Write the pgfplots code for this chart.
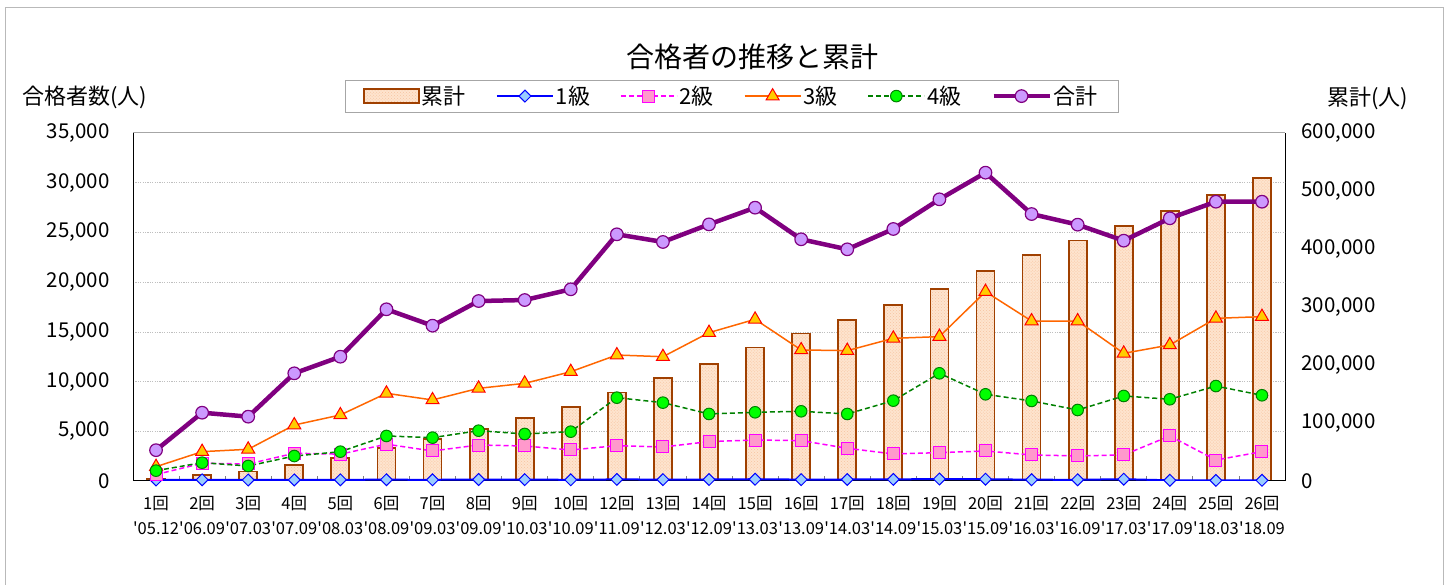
\documentclass[border=0pt]{standalone}
\usepackage{fontspec}
\newfontfamily\jp{Noto Sans CJK JP}[Ligatures=TeXOff]
\usepackage{pgfplots}
\pgfplotsset{compat=1.18}
\usepackage{pgfplotstable}
\usetikzlibrary{patterns}

\definecolor{barfill}{RGB}{254,228,206}
\definecolor{barpat}{RGB}{246,196,160}
\definecolor{bardraw}{RGB}{160,64,0}
\definecolor{cA}{RGB}{0,0,255}
\definecolor{cAf}{RGB}{153,204,255}
\definecolor{cB}{RGB}{255,0,255}
\definecolor{cBf}{RGB}{255,153,204}
\definecolor{cC}{RGB}{255,102,0}
\definecolor{cCf}{RGB}{255,204,0}
\definecolor{cCd}{RGB}{255,0,0}
\definecolor{cD}{RGB}{0,128,0}
\definecolor{cDf}{RGB}{0,255,0}
\definecolor{cE}{RGB}{128,0,128}
\definecolor{cEf}{RGB}{204,153,255}

\pgfplotstableread{
idx k1 k2 k3 k4 tot cum
0 100 650 1440 1040 3100 3100
1 120 1780 2950 1840 6870 9900
2 100 1710 3190 1510 6470 16300
3 110 2790 5630 2510 10830 27000
4 120 2700 6640 2950 12500 39500
5 130 3700 8820 4530 17270 56800
6 120 3020 8150 4360 15620 72400
7 150 3620 9320 5060 18100 90300
8 140 3520 9820 4730 18200 109000
9 120 3120 10990 4960 19280 128200
10 160 3550 12670 8380 24810 152700
11 140 3420 12500 7880 24040 177000
12 150 3960 14920 6740 25810 202300
13 180 4120 16260 6910 27490 230100
14 140 4060 13180 7010 24310 254400
15 150 3290 13110 6740 23300 277500
16 160 2720 14350 8080 25345 302800
17 200 2850 14520 10830 28330 331300
18 180 3020 19040 8720 31010 362400
19 130 2620 16090 8050 26850 389000
20 120 2520 16090 7140 25780 414800
21 180 2620 12840 8550 24170 439000
22 70 4530 13680 8220 26420 466000
23 60 2110 16360 9550 28090 493500
24 70 2950 16530 8620 28090 522000
}\data

\begin{document}
\jp
\begin{tikzpicture}[x=1bp,y=1bp]
\path (0,0) rectangle (1451,583);
\draw[gray!55, line width=1bp] (5,-2) -- (5,575) -- (1443,575) -- (1443,-2);

% bars on the right axis
\begin{axis}[
  at={(133bp,102bp)}, anchor=south west,
  scale only axis, width=1152bp, height=348bp,
  xmin=-0.5, xmax=24.5, ymin=0, ymax=600000,
  axis x line=none,
  axis y line*=right,
  axis line style={black, line width=1bp},
  ytick={0,100000,...,600000},
  scaled y ticks=false,
  yticklabel style={font=\fontsize{20.5bp}{24bp}\selectfont, anchor=west, xshift=13bp},
  /pgf/number format/fixed,
  /pgf/number format/1000 sep={,},
  /pgf/number format/assume math mode=true,
  major tick length=0,
  extra y ticks={85714.29,171428.57,257142.86,342857.14,428571.43,514285.71},
  extra y tick style={ymajorgrids=true, grid style={gray!50, line width=0.7bp, dash pattern=on 1.2bp off 1.2bp}, yticklabel={}},
  ybar, bar width=18bp,
  after end axis/.code={\draw[gray!70, line width=1bp] (rel axis cs:0,1) -- (rel axis cs:1,1);},
]
\addplot[fill=barfill, draw=bardraw, line width=1.8bp, postaction={pattern=crosshatch dots, pattern color=barpat}] table[x=idx,y=cum]{\data};
\end{axis}

% lines on the left axis
\begin{axis}[
  at={(133bp,102bp)}, anchor=south west,
  scale only axis, width=1152bp, height=348bp,
  xmin=-0.5, xmax=24.5, ymin=0, ymax=35000,
  axis y line*=left, axis x line*=bottom,
  axis line style={black, line width=1bp},
  ytick={0,5000,...,35000},
  scaled y ticks=false,
  yticklabel style={font=\fontsize{20.5bp}{24bp}\selectfont, xshift=-20bp},
  /pgf/number format/fixed,
  /pgf/number format/1000 sep={,},
  /pgf/number format/assume math mode=true,
  major tick length=0,
  xtick={0,...,24},
  minor xtick={0.5,1.5,...,23.5},
  minor tick length=5bp,
  xtick align=inside,
  minor x tick style={gray, line width=0.8bp},
  xticklabels={{1回\\'05.12},{2回\\'06.09},{3回\\'07.03},{4回\\'07.09},{5回\\'08.03},{6回\\'08.09},{7回\\'09.03},{8回\\'09.09},{9回\\'10.03},{10回\\'10.09},{12回\\'11.09},{13回\\'12.03},{14回\\'12.09},{15回\\'13.03},{16回\\'13.09},{17回\\'14.03},{18回\\'14.09},{19回\\'15.03},{20回\\'15.09},{21回\\'16.03},{22回\\'16.09},{23回\\'17.03},{24回\\'17.09},{25回\\'18.03},{26回\\'18.09}},
  xticklabel style={align=center, font=\fontsize{16.5bp}{25bp}\selectfont, yshift=-12bp},
  legend image code/.code={\draw[mark repeat=2,mark phase=2,#1] plot coordinates {(0bp,0bp) (28bp,0bp) (56bp,0bp)};},
  legend columns=6,
  legend cell align=left,
  legend style={at={(0.5195,1.106)}, anchor=center, draw=gray!70, fill=white,
    font=\fontsize{22bp}{26bp}\selectfont, inner xsep=18bp, inner ysep=4bp,
    /tikz/every even column/.append style={column sep=28bp}},
]
\addlegendimage{legend image code/.code={\draw[fill=barfill,draw=bardraw,line width=1.8bp,postaction={pattern=crosshatch dots, pattern color=barpat}] (0bp,-7bp) rectangle (55bp,7bp);}}
\addlegendentry{累計}
\addplot[color=cA, line width=2bp, mark=square*, mark size=4.2bp, mark options={rotate=45, fill=cAf, draw=cA, line width=1bp, solid}] table[x=idx,y=k1]{\data};
\addlegendentry{1級}
\addplot[color=cB, line width=1.5bp, dash pattern=on 5bp off 3bp, mark=square*, mark size=6bp, mark options={fill=cBf, draw=cB, line width=1bp, solid}] table[x=idx,y=k2]{\data};
\addlegendentry{2級}
\addplot[color=cC, line width=1.5bp, mark=triangle*, mark size=7.5bp, mark options={fill=cCf, draw=cCd, line width=1bp, solid}] table[x=idx,y=k3]{\data};
\addlegendentry{3級}
\addplot[color=cD, line width=1.5bp, dash pattern=on 5bp off 3bp, mark=*, mark size=5.8bp, mark options={fill=cDf, draw=cD, line width=1bp, solid}] table[x=idx,y=k4]{\data};
\addlegendentry{4級}
\addplot[color=cE, line width=4.5bp, mark=*, mark size=6.3bp, mark options={fill=cEf, draw=cE, line width=1.2bp, solid}] table[x=idx,y=tot]{\data};
\addlegendentry{合計}
\end{axis}

\node at (752,526) {\fontsize{28bp}{32bp}\selectfont 合格者の推移と累計};
\node[anchor=west, inner sep=0pt] at (22,486) {\fontsize{22bp}{26bp}\selectfont 合格者数(人)};
\node[anchor=west, inner sep=0pt] at (1327,485) {\fontsize{22bp}{26bp}\selectfont 累計(人)};
\end{tikzpicture}
\end{document}
